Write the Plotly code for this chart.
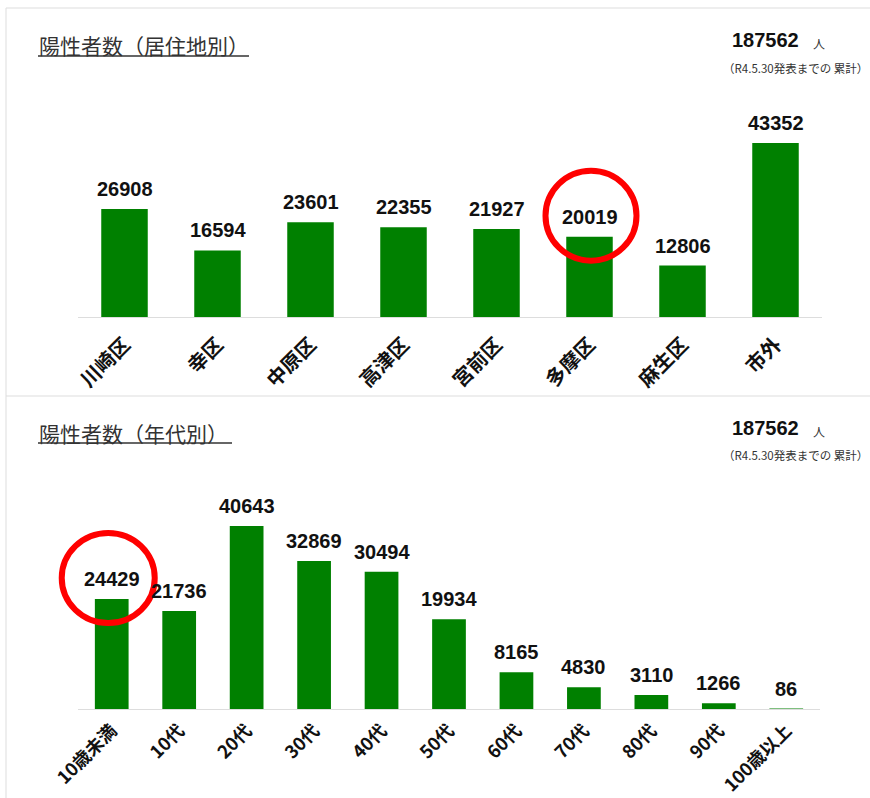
import plotly.graph_objects as go

# ---- data ----
districts = ["川崎区", "幸区", "中原区", "高津区", "宮前区", "多摩区", "麻生区", "市外"]
district_counts = [26908, 16594, 23601, 22355, 21927, 20019, 12806, 43352]

age_groups = ["10歳未満", "10代", "20代", "30代", "40代", "50代", "60代", "70代", "80代", "90代", "100歳以上"]
age_counts = [24429, 21736, 40643, 32869, 30494, 19934, 8165, 4830, 3110, 1266, 86]

title_district = "陽性者数（居住地別）"
title_age = "陽性者数（年代別）"
note_text = "（R4.5.30発表までの 累計）"
unit_text = "人"
highlight_district = "多摩区"
highlight_age = "10歳未満"

W, H = 870, 798
GREEN = "#008000"
GRID = "#dddddd"
NUM_FONT = "Liberation Sans, Arial, sans-serif"
JP_FONT = "Noto Sans CJK JP, sans-serif"


def px(x):
    return x / W


def py(y):
    return 1 - y / H


# subplot geometry (paper fractions) and value ranges
X1_DOM = [px(78), px(822)]
Y1_DOM = [py(317), py(100)]
Y1_MAX = 217 / 0.004014
X2_DOM = [px(78), px(820)]
Y2_DOM = [py(709), py(490)]
Y2_MAX = 219 / 0.004503

fig = go.Figure()

numfont = dict(family=NUM_FONT, size=20, color="#111", weight="bold")

fig.add_trace(go.Bar(
    x=districts, y=district_counts, xaxis="x", yaxis="y",
    marker=dict(color=GREEN, line=dict(width=0)), width=0.5,
    cliponaxis=False, hoverinfo="x+y",
))
fig.add_trace(go.Bar(
    x=age_groups, y=age_counts, xaxis="x2", yaxis="y2",
    marker=dict(color=GREEN, line=dict(width=0)), width=0.5,
    cliponaxis=False, hoverinfo="x+y",
))

fig.update_layout(
    width=W, height=H,
    margin=dict(l=0, r=0, t=0, b=0, pad=0),
    paper_bgcolor="white", plot_bgcolor="white",
    showlegend=False,
    xaxis=dict(domain=X1_DOM, anchor="y", showline=True, linecolor=GRID,
               linewidth=1, tickangle=-45, ticks="", ticklabelstandoff=7,
               tickfont=dict(family=JP_FONT, size=20, color="#111", weight="bold"),
               showgrid=False, fixedrange=True, automargin=False,
               range=[-0.5, len(districts) - 0.5]),
    yaxis=dict(domain=Y1_DOM, range=[0, Y1_MAX], visible=False,
               showgrid=False, fixedrange=True, automargin=False),
    xaxis2=dict(domain=X2_DOM, anchor="y2", showline=True, linecolor=GRID,
                linewidth=1, tickangle=-45, ticks="", ticklabelstandoff=3,
                tickfont=dict(family=JP_FONT, size=18, color="#111", weight="bold"),
                showgrid=False, fixedrange=True, automargin=False,
                range=[-0.5, len(age_groups) - 0.5]),
    yaxis2=dict(domain=Y2_DOM, range=[0, Y2_MAX], visible=False,
                showgrid=False, fixedrange=True, automargin=False),
)

shapes = [
    # panel borders
    dict(type="line", xref="paper", yref="paper", x0=px(6), x1=1, y0=py(8), y1=py(8),
         line=dict(color=GRID, width=1)),
    dict(type="line", xref="paper", yref="paper", x0=px(6), x1=px(6), y0=py(8), y1=0,
         line=dict(color=GRID, width=1)),
    dict(type="line", xref="paper", yref="paper", x0=px(6), x1=1, y0=py(396), y1=py(396),
         line=dict(color=GRID, width=1)),
    # title underlines
    dict(type="line", xref="paper", yref="paper", x0=px(38), x1=px(249), y0=py(56), y1=py(56),
         line=dict(color="#333", width=1.5)),
    dict(type="line", xref="paper", yref="paper", x0=px(38), x1=px(232), y0=py(443), y1=py(443),
         line=dict(color="#333", width=1.5)),
]


def bar_top_paper(idx, n, value, xdom, ydom, ymax):
    """Map a category index and value to paper coordinates via the axis scale."""
    xp = xdom[0] + (idx + 0.5) / n * (xdom[1] - xdom[0])
    yp = ydom[0] + value / ymax * (ydom[1] - ydom[0])
    return xp, yp


# highlight circles anchored (in paper space, unclipped) to the highlighted bars
i1 = districts.index(highlight_district)
ax, ay = bar_top_paper(i1, len(districts), district_counts[i1], X1_DOM, Y1_DOM, Y1_MAX)
shapes.append(dict(type="circle", xref="paper", yref="paper", xsizemode="pixel",
                   ysizemode="pixel", xanchor=ax, yanchor=ay, x0=-44, x1=47, y0=-24, y1=66,
                   line=dict(color="#ff0000", width=6)))
i2 = age_groups.index(highlight_age)
ax, ay = bar_top_paper(i2, len(age_groups), age_counts[i2], X2_DOM, Y2_DOM, Y2_MAX)
shapes.append(dict(type="circle", xref="paper", yref="paper", xsizemode="pixel",
                   ysizemode="pixel", xanchor=ax, yanchor=ay, x0=-50, x1=43, y0=-24, y1=66,
                   line=dict(color="#ff0000", width=6)))

fig.update_layout(shapes=shapes)

annotations = []
# value labels above bars
for cats, vals, xr, yr in [(districts, district_counts, "x", "y"),
                           (age_groups, age_counts, "x2", "y2")]:
    for c, v in zip(cats, vals):
        annotations.append(dict(xref=xr, yref=yr, x=c, y=v, text=str(v), showarrow=False,
                                xanchor="center", yanchor="bottom", yshift=7,
                                font=numfont))

for title, total, ty, ny in [(title_district, sum(district_counts), 45, 68),
                             (title_age, sum(age_counts), 433, 455)]:
    annotations.append(dict(xref="paper", yref="paper", x=px(37), y=py(ty), text=title,
                            showarrow=False, xanchor="left", yanchor="middle",
                            font=dict(family=JP_FONT, size=21, color="#333")))
    annotations.append(dict(xref="paper", yref="paper", x=px(801), y=py(ty - 5),
                            text=str(total), showarrow=False, xanchor="right", yanchor="middle",
                            font=dict(family=NUM_FONT, size=20, color="#111", weight="bold")))
    annotations.append(dict(xref="paper", yref="paper", x=px(811), y=py(ty - 2),
                            text=unit_text, showarrow=False, xanchor="left", yanchor="middle",
                            font=dict(family=JP_FONT, size=12, color="#333")))
    annotations.append(dict(xref="paper", yref="paper", x=1.0, y=py(ny), text=note_text,
                            showarrow=False, xanchor="right", yanchor="middle",
                            font=dict(family=JP_FONT, size=11.5, color="#333")))
fig.update_layout(annotations=annotations)

fig.write_html(
    "out.html",
    config={"displayModeBar": False, "staticPlot": True},
    post_script=(
        "document.body.style.margin='0';document.body.style.padding='0';"
        "document.body.style.overflow='hidden';"
        "var d=document.getElementById('{plot_id}');"
        "d.style.position='absolute';d.style.left='0px';d.style.top='0px';"
    ),
)
